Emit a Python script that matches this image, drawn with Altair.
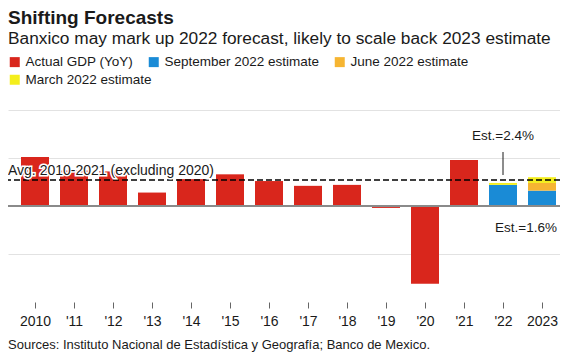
import json
import altair as alt
import pandas as pd

# ---------------- data ----------------
years = list(range(2010, 2024))
tick_labels = ["2010", "'11", "'12", "'13", "'14", "'15", "'16", "'17", "'18", "'19", "'20", "'21", "'22", "2023"]
actual_years = list(range(2010, 2022))
actual_gdp = [5.1, 3.7, 3.6, 1.4, 2.8, 3.3, 2.6, 2.1, 2.2, -0.2, -8.1, 4.8]
est_years = [2022, 2023]
sept_est = [2.2, 1.6]
june_est = [1.7, 2.4]
march_est = [2.4, 3.0]
avg_2010_2021 = 2.7
series = ["Actual GDP (YoY)", "September 2022 estimate", "June 2022 estimate", "March 2022 estimate"]
colors = ["#d9261c", "#1a8bd6", "#f6b532", "#f4ee1c"]
grid_values = [10, 5, -5]

title = "Shifting Forecasts"
subtitle = "Banxico may mark up 2022 forecast, likely to scale back 2023 estimate"
source = "Sources: Instituto Nacional de Estadística y Geografía; Banco de Mexico."
avg_label = "Avg. 2010-2021 (excluding 2020)"

FONT = "Liberation Sans"
INK = "#1a1a1a"
W = 552

# ------------- build segments -------------
rows = []
for yr, v in zip(actual_years, actual_gdp):
    rows.append(dict(year=yr, series=series[0], lo=0.0, hi=v))
for yr, s, j, m in zip(est_years, sept_est, june_est, march_est):
    rows.append(dict(year=yr, series=series[1], lo=0.0, hi=s))
    top = s
    if j > top:
        rows.append(dict(year=yr, series=series[2], lo=top, hi=j))
        top = j
    if m > top:
        rows.append(dict(year=yr, series=series[3], lo=top, hi=m))
        top = m
bars_df = pd.DataFrame(rows)
main_df = bars_df[bars_df["series"] != series[3]]
march_df = bars_df[bars_df["series"] == series[3]]

x_scale = alt.Scale(domain=[2010 - 27 / 39, 2010 + (W - 27) / 39], nice=False, zero=False, padding=0)
y_scale = alt.Scale(domain=[-10, 10], nice=False, padding=0)

label_expr = json.dumps(tick_labels) + "[datum.value - 2010]"

x_enc = alt.X("year:Q", scale=x_scale,
              axis=alt.Axis(values=years, labelExpr=label_expr, title=None, domain=False, grid=False,
                            tickSize=6, tickColor="#666666", tickWidth=1, labelFontSize=14,
                            labelPadding=6, labelColor=INK, labelFont=FONT))
y_enc = alt.Y("lo:Q", scale=y_scale,
              axis=alt.Axis(values=grid_values, grid=True, gridColor="#e2e2e2", gridWidth=1,
                            labels=False, ticks=False, domain=False, title=None))

legend_common = dict(orient="none", legendX=0, direction="horizontal", symbolType="square",
                     symbolSize=100, symbolStrokeWidth=0, labelFontSize=13.5, labelFont=FONT,
                     labelColor=INK, labelOffset=4, columnPadding=13, title=None, labelLimit=0)

bars = alt.Chart(main_df).mark_bar(size=28).encode(
    x=x_enc, y=y_enc, y2="hi:Q",
    color=alt.Color("series:N", scale=alt.Scale(domain=series[:3], range=colors[:3]),
                    legend=alt.Legend(legendY=-55, **legend_common)),
)
march_bars = alt.Chart(march_df).mark_bar(size=28).encode(
    x=x_enc, y=y_enc, y2="hi:Q",
    color=alt.Color("series:N", scale=alt.Scale(domain=series[3:], range=colors[3:]),
                    legend=alt.Legend(legendY=-37, **legend_common)),
)

zero_df = pd.DataFrame({"v": [0]})
avg_df = pd.DataFrame({"v": [avg_2010_2021], "t": [avg_label]})

zero_rule = alt.Chart(zero_df).mark_rule(color="#8a8a8a", strokeWidth=2).encode(y="v:Q")
avg_rule = alt.Chart(avg_df).mark_rule(color="black", strokeDash=[6, 3], strokeWidth=1.5).encode(y="v:Q")

avg_halo = alt.Chart(avg_df).mark_text(align="left", baseline="alphabetic", fontSize=14, font=FONT,
                                        dy=-5, fill="white", stroke="white", strokeWidth=3).encode(
    x=alt.value(0), y="v:Q", text="t:N")
avg_text = alt.Chart(avg_df).mark_text(align="left", baseline="alphabetic", fontSize=14, font=FONT,
                                        dy=-5, color=INK).encode(
    x=alt.value(0), y="v:Q", text="t:N")

est22_df = pd.DataFrame({"year": [est_years[0]], "v": [march_est[0]], "t": [f"Est.={march_est[0]}%"]})
est23_df = pd.DataFrame({"year": [est_years[1]], "v": [sept_est[1]], "t": [f"Est.={sept_est[1]}%"]})

est22_text = alt.Chart(est22_df).mark_text(align="center", baseline="middle", fontSize=13.5, font=FONT,
                                           dy=-47, color=INK).encode(
    x=alt.X("year:Q"), y=alt.Y("v:Q"), text="t:N")
est22_line = alt.Chart(est22_df).mark_rule(color=INK, strokeWidth=1).encode(
    x=alt.X("year:Q"), y=alt.value(42), y2=alt.value(65))
est23_text = alt.Chart(est23_df).mark_text(align="center", baseline="middle", fontSize=13.5, font=FONT,
                                           dy=37, dx=-16, color=INK).encode(
    x=alt.X("year:Q"), y=alt.Y("v:Q"), text="t:N")


def label(txt, y, size, weight="normal"):
    return alt.Chart(pd.DataFrame({"t": [txt]})).mark_text(
        align="left", baseline="alphabetic", fontSize=size, fontWeight=weight, font=FONT, color=INK
    ).encode(x=alt.value(0), y=alt.value(y), text="t:N")


title_t = label(title, -86, 19, "bold")
subtitle_t = label(subtitle, -66, 17.3)
source_t = label(source, 239, 13)

chart = alt.layer(
    bars, march_bars, zero_rule, avg_rule, avg_halo, avg_text, est22_line, est22_text, est23_text,
    title_t, subtitle_t, source_t
).resolve_scale(color="independent").properties(
    width=W, height=192,
    autosize=alt.AutoSizeParams(type="none"),
    padding={"left": 0, "top": 102, "right": 0, "bottom": 50},
).configure(background="white").configure_view(stroke=None)

chart.save("out.html", embed_options={"renderer": "svg", "actions": False})
